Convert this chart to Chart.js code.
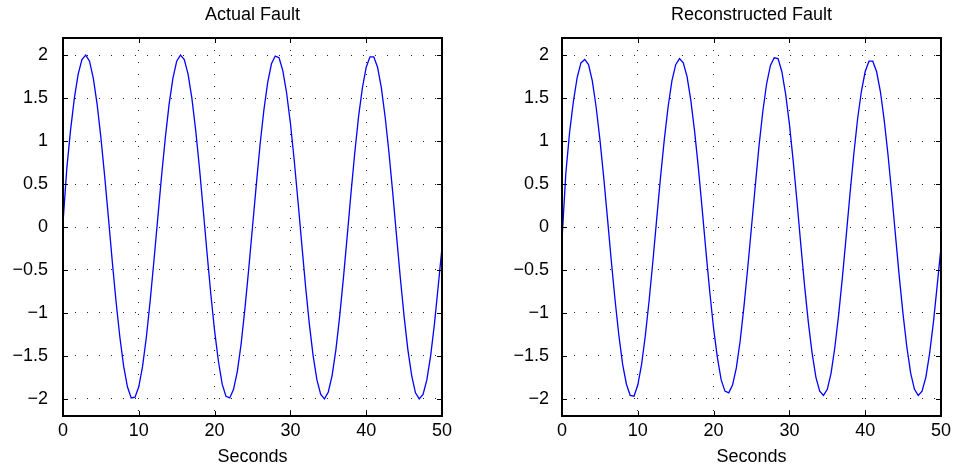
<!DOCTYPE html>
<html><head><meta charset="utf-8">
<script src="https://cdn.jsdelivr.net/npm/chart.js@4.4.0/dist/chart.umd.min.js"></script>
<style>
html,body{margin:0;padding:0;background:#fff;width:955px;height:470px;overflow:hidden}
canvas{position:absolute;top:0}
#c1{left:0}
#c2{left:477px}
</style></head><body>
<canvas id="c1" width="477" height="470"></canvas>
<canvas id="c2" width="478" height="470"></canvas>
<script>
const seconds = [0,0.5,1,1.5,2,2.5,3,3.5,4,4.5,5,5.5,6,6.5,7,7.5,8,8.5,9,9.5,10,10.5,11,11.5,12,12.5,13,13.5,14,14.5,15,15.5,16,16.5,17,17.5,18,18.5,19,19.5,20,20.5,21,21.5,22,22.5,23,23.5,24,24.5,25,25.5,26,26.5,27,27.5,28,28.5,29,29.5,30,30.5,31,31.5,32,32.5,33,33.5,34,34.5,35,35.5,36,36.5,37,37.5,38,38.5,39,39.5,40,40.5,41,41.5,42,42.5,43,43.5,44,44.5,45,45.5,46,46.5,47,47.5,48,48.5,49,49.5,50];
const actualFault = [0.05,0.68,1.13,1.50,1.78,1.95,2.00,1.93,1.73,1.43,1.04,0.59,0.10,-0.40,-0.87,-1.28,-1.62,-1.86,-1.99,-1.98,-1.86,-1.62,-1.28,-0.86,-0.39,0.10,0.59,1.04,1.43,1.73,1.93,2.00,1.95,1.78,1.50,1.13,0.69,0.20,-0.30,-0.78,-1.21,-1.56,-1.83,-1.97,-1.99,-1.89,-1.68,-1.36,-0.95,-0.49,0.00,0.49,0.96,1.36,1.68,1.90,1.99,1.97,1.82,1.56,1.21,0.78,0.30,-0.20,-0.69,-1.13,-1.50,-1.78,-1.95,-2.00,-1.92,-1.73,-1.43,-1.04,-0.59,-0.10,0.40,0.87,1.29,1.62,1.86,1.98,1.98,1.86,1.62,1.28,0.87,0.40,-0.10,-0.59,-1.04,-1.43,-1.73,-1.93,-2.00,-1.95,-1.78,-1.50,-1.13,-0.69,-0.24];
const reconstructedFault = [-0.15,0.62,1.10,1.46,1.74,1.91,1.95,1.89,1.70,1.40,1.02,0.58,0.10,-0.39,-0.85,-1.26,-1.60,-1.83,-1.96,-1.97,-1.84,-1.60,-1.26,-0.85,-0.39,0.10,0.58,1.02,1.40,1.70,1.89,1.96,1.91,1.75,1.47,1.11,0.68,0.20,-0.29,-0.76,-1.18,-1.52,-1.78,-1.91,-1.93,-1.84,-1.64,-1.33,-0.93,-0.48,0.00,0.48,0.95,1.35,1.67,1.88,1.97,1.96,1.81,1.55,1.20,0.77,0.30,-0.20,-0.68,-1.11,-1.47,-1.75,-1.91,-1.96,-1.89,-1.70,-1.40,-1.02,-0.58,-0.10,0.39,0.85,1.26,1.58,1.81,1.93,1.93,1.81,1.58,1.25,0.85,0.39,-0.10,-0.58,-1.02,-1.40,-1.70,-1.89,-1.96,-1.91,-1.75,-1.47,-1.11,-0.68,-0.24];
const xTicks = [0,10,20,30,40,50];
const xTickLabels = ['0','10','20','30','40','50'];
const yTicks = [-2,-1.5,-1,-0.5,0,0.5,1,1.5,2];
const yTickLabels = ['\u22122','\u22121.5','\u22121','\u22120.5','0','0.5','1','1.5','2'];
const titles = ['Actual Fault','Reconstructed Fault'];
const xTitle = 'Seconds';

const FONT = 'Liberation Sans, Arial, Helvetica, sans-serif';

const framePlugin = {
  id: 'frame',
  afterDatasetsDraw(chart) {
    const {ctx, chartArea: a, scales: {x, y}} = chart;
    const L = 5;
    ctx.save();
    ctx.strokeStyle = '#000';
    ctx.lineWidth = 1;
    ctx.beginPath();
    x.ticks.forEach(t => {
      const px = Math.round(x.getPixelForValue(t.value)) + 0.5;
      ctx.moveTo(px, a.top); ctx.lineTo(px, a.top + L);
      ctx.moveTo(px, a.bottom); ctx.lineTo(px, a.bottom - L);
    });
    y.ticks.forEach(t => {
      const py = Math.round(y.getPixelForValue(t.value)) + 0.5;
      ctx.moveTo(a.left, py); ctx.lineTo(a.left + L, py);
      ctx.moveTo(a.right, py); ctx.lineTo(a.right - L, py);
    });
    ctx.stroke();
    ctx.lineWidth = 2;
    ctx.strokeRect(a.left, a.top, a.right - a.left, a.bottom - a.top);
    ctx.restore();
  }
};

function makeChart(id, values, title, yWidth, rightPad, labelPad) {
  return new Chart(document.getElementById(id), {
    type: 'line',
    data: {
      datasets: [{
        data: seconds.map((t, i) => ({x: t, y: values[i]})),
        borderColor: '#0000ff',
        borderWidth: 1.3,
        pointRadius: 0,
        tension: 0,
        fill: false
      }]
    },
    options: {
      responsive: false,
      animation: false,
      events: [],
      layout: {padding: {left: 0, right: rightPad, top: 0, bottom: 0}},
      plugins: {
        legend: {display: false},
        tooltip: {enabled: false},
        title: {
          display: true, text: title, fullSize: false, color: '#000',
          font: {family: FONT, size: 18, weight: 'normal', lineHeight: 1.2},
          padding: {top: 4, bottom: 12.4}
        }
      },
      scales: {
        x: {
          type: 'linear', min: 0, max: 50,
          afterBuildTicks: s => { s.ticks = xTicks.map(v => ({value: v})); },
          afterFit: s => { s.height = 54; },
          ticks: {
            color: '#000', padding: 4, maxRotation: 0, autoSkip: false,
            font: {family: FONT, size: 18},
            callback: (v, i) => xTickLabels[i]
          },
          grid: {color: '#222', lineWidth: 1, drawTicks: false},
          border: {display: false, dash: [1, 11]},
          title: {
            display: true, text: xTitle, color: '#000',
            font: {family: FONT, size: 18},
            padding: {top: 0, bottom: 2}
          }
        },
        y: {
          type: 'linear', min: -2.2, max: 2.2,
          afterBuildTicks: s => { s.ticks = yTicks.map(v => ({value: v})); },
          afterFit: s => { s.width = yWidth; },
          ticks: {
            color: '#000', padding: labelPad, autoSkip: false,
            font: {family: FONT, size: 18},
            callback: (v, i) => yTickLabels[i]
          },
          grid: {color: '#222', lineWidth: 1, drawTicks: false},
          border: {display: false, dash: [1, 11]}
        }
      }
    },
    plugins: [framePlugin]
  });
}

makeChart('c1', actualFault, titles[0], 63, 35, 15);
makeChart('c2', reconstructedFault, titles[1], 85, 12, 13);
</script>
</body></html>
